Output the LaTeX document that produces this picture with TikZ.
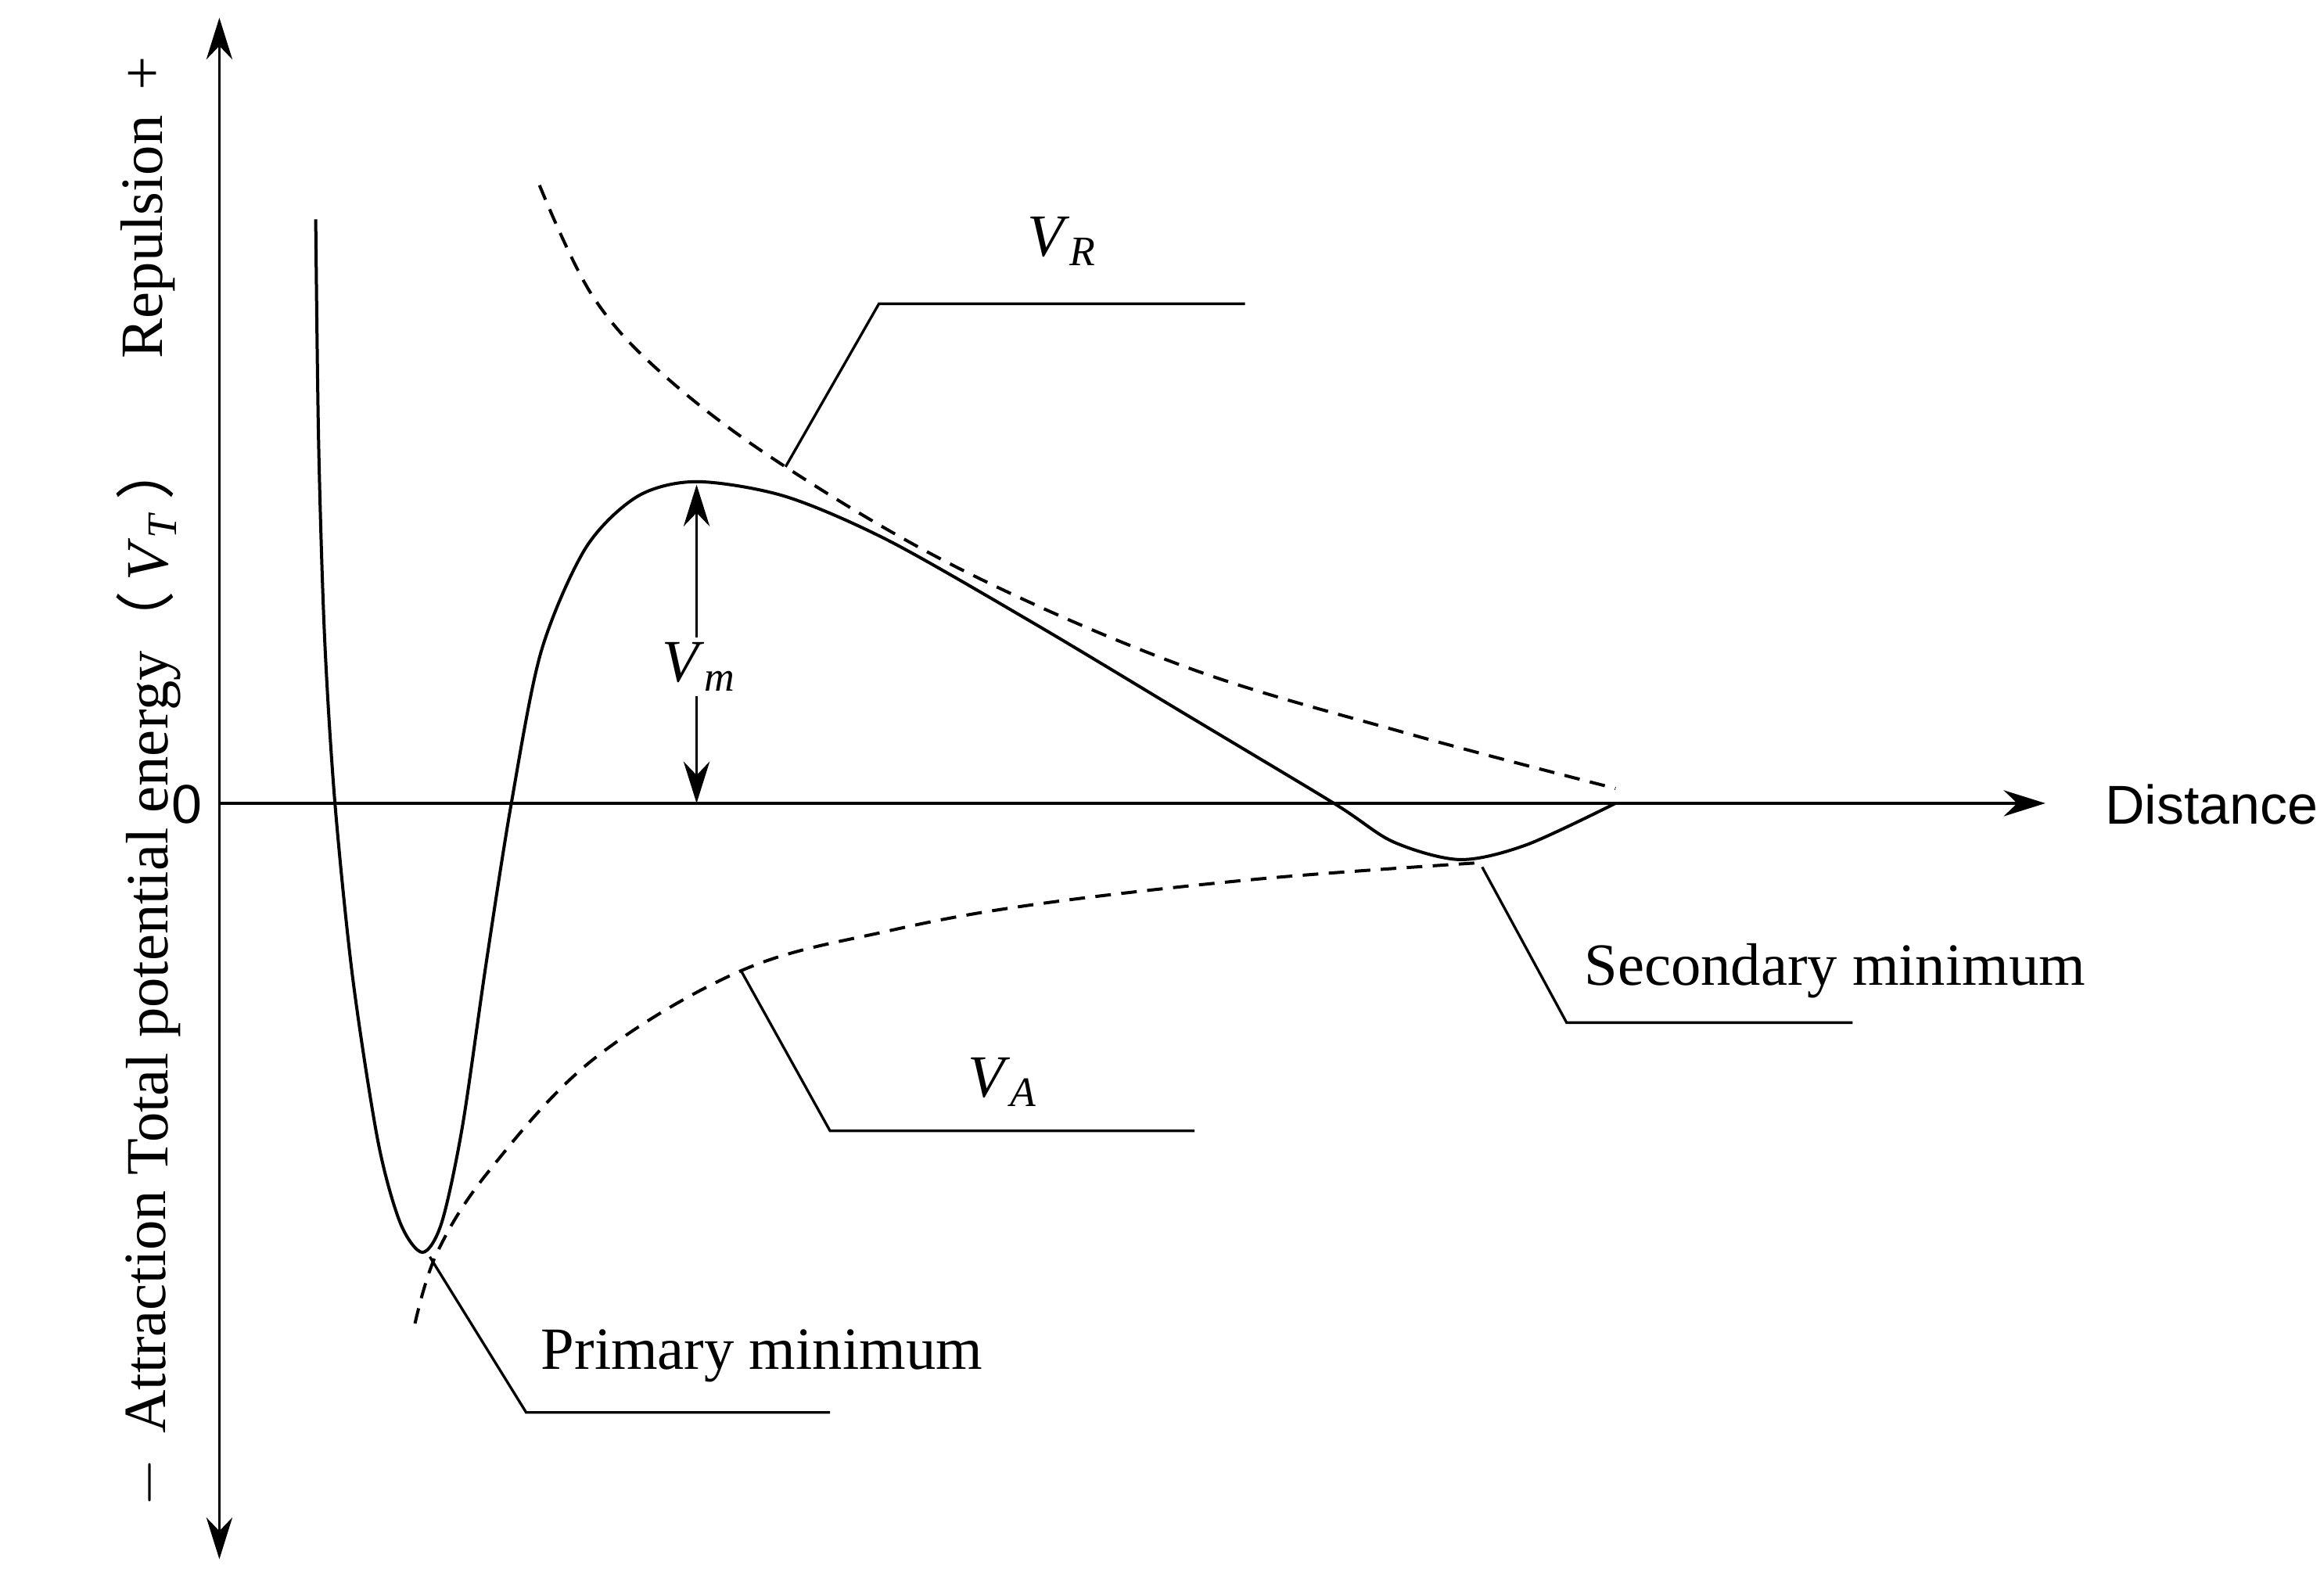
\documentclass[tikz,border=0pt]{standalone}
\usepackage{fontspec}
\setmainfont{Liberation Serif}
\newfontfamily\axisfont{Liberation Sans}
\newfontfamily\cjk{Noto Sans CJK SC}
\usetikzlibrary{arrows.meta,positioning}
\newcommand{\vsym}[2]{\textit{V}\textsubscript{\textit{#2}#1}}
\begin{document}
\begin{tikzpicture}[
        x=0.01cm, y=-0.01cm,
        font=\fontsize{11.5}{13}\selectfont]

        \tikzset{axis/.style={-{Stealth[length=8pt,width=5pt]}, line width=0.5pt}}
        \tikzset{curve/.style={line width=0.6pt}}
        \tikzset{dashcurve/.style={line width=0.6pt, dash pattern=on 3pt off 2pt}}
        \tikzset{leader/.style={line width=0.5pt}}
        \tikzset{sans/.style={font=\axisfont\fontsize{10.5}{12}\selectfont}}
        \useasboundingbox (0,0) rectangle (1568,1061);

        % axes
        \coordinate (origin) at (148,542);
        \coordinate (top) at (148,12);
        \coordinate (bottom) at (148,1052);
        \coordinate (xend) at (1380,542);
        \draw[axis] (origin) -- (top);
        \draw[axis] (origin) -- (bottom);
        \draw[axis] (origin) -- (xend);
        \node[sans] (zero) at (126,543) {0};
        \node[sans, anchor=west] (dist) at (1408,543) {Distance};
        \node[rotate=90] (rep) at (100,140) {Repulsion \,+};
        \node[rotate=90] (tot) at (100,545) {Total potential energy{\cjk（}\,\vsym{}{T}\,{\cjk）}};
        \node[rotate=90] (att) at (100,910) {$-$ \,Attraction};

        % curves
        \draw[curve] plot[smooth, tension=0.5] coordinates {
            (213,148) (215,300) (219,430) (226,542) (238,660) (255,770)
            (270,825) (285,845) (298,825) (312,760) (328,650) (345,542)
            (365,440) (395,370) (430,335) (470,325) (530,335) (600,365)
            (700,422) (800,482) (900,542) (940,568) (985,580) (1030,570)
            (1090,542)};
        \draw[dashcurve] plot[smooth, tension=0.6] coordinates {
            (364,125) (400,200) (450,255) (530,315) (650,385) (800,450)
            (950,495) (1090,532)};
        \draw[dashcurve] plot[smooth, tension=0.6] coordinates {
            (280,893) (295,845) (330,790) (400,715) (500,655) (600,628)
            (700,610) (850,593) (1000,582)};

        % Vm
        \coordinate (vmtop) at (470,327);
        \coordinate (vmbot) at (470,542);
        \draw[<->, >={Stealth[length=8pt,width=5pt]}, leader] (vmtop) -- (vmbot);
        \node[fill=white, inner sep=1pt] (vm) at (472,450) {\vsym{}{m}};

        % labels
        \coordinate (r0) at (530,315);
        \coordinate (r1) at (593,205);
        \coordinate (r2) at (840,205);
        \draw[leader] (r0) -- (r1) -- (r2);
        \node (vr) at (717,163) {\vsym{}{R}};

        \coordinate (a0) at (500,655);
        \coordinate (a1) at (560,763);
        \coordinate (a2) at (806,763);
        \draw[leader] (a0) -- (a1) -- (a2);
        \node (va) at (677,730) {\vsym{}{A}};

        \coordinate (s0) at (1000,585);
        \coordinate (s1) at (1057,690);
        \coordinate (s2) at (1250,690);
        \draw[leader] (s0) -- (s1) -- (s2);
        \node (sec) at (1238,655) {Secondary minimum};

        \coordinate (p0) at (290,848);
        \coordinate (p1) at (355,953);
        \coordinate (p2) at (560,953);
        \draw[leader] (p0) -- (p1) -- (p2);
        \node (prim) at (514,915) {Primary minimum};
    \end{tikzpicture}
\end{document}
